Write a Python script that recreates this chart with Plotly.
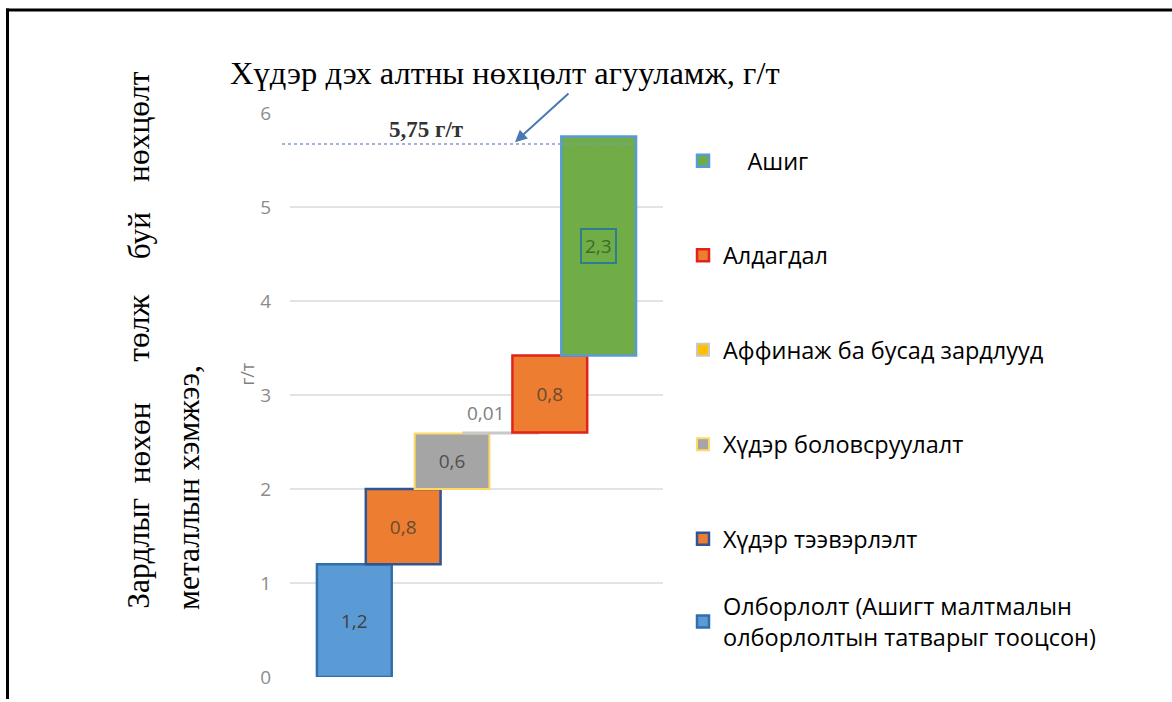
import plotly.graph_objects as go

# ---- data ----
categories = ["Олборлолт (Ашигт малтмалын<br>олборлолтын татварыг тооцсон)",
              "Хүдэр тээвэрлэлт",
              "Хүдэр боловсруулалт",
              "Аффинаж ба бусад зардлууд",
              "Алдагдал",
              "\u00a0\u00a0\u00a0\u00a0Ашиг"]
step_values = [1.2, 0.8, 0.59, 0.01, 0.82, 2.33]
value_labels = ["1,2", "0,8", "0,6", "0,01", "0,8", "2,3"]
cutoff_grade = 5.67
cutoff_label = "5,75 г/т"
y_ticks = [0, 1, 2, 3, 4, 5, 6]

fill_colors = ["#5b9bd5", "#ed7d31", "#a5a5a5", "#ffc000", "#ed7d31", "#70ad47"]
line_colors = ["#2e6fac", "#2f5597", "#ffd966", "#c8c8c8", "#e2231a", "#5b9bd5"]
line_widths = [2.5, 2.5, 2, 2, 2.5, 2.5]
label_colors = ["#404040", "#6b4a33", "#505050", "#7f7f7f", "#6b4a33", "#3d6b2a"]

# ---- geometry helpers (pixel -> paper) ----
W, H = 1172, 702
L, R, T, B = 290, 663, 113, 680
def px(x):
    return (x - L) / (R - L)
def py(y):
    return (B - y) / (B - T)

bases = []
acc = 0.0
for v in step_values:
    bases.append(acc)
    acc += v

LABEL_FONT = "Open Sans"

fig = go.Figure()
n = len(categories)
for i, (name, v, b) in enumerate(zip(categories, step_values, bases)):
    inside = i not in (3, 5)
    fig.add_trace(go.Bar(
        x=[i], y=[v], base=[b], width=1.53, name=name,
        legend="legend2" if i == 0 else "legend",
        legendgroup=f"g{i}", legendrank=100 * (n - i),
        marker=dict(color=fill_colors[i],
                    line=dict(color=line_colors[i], width=line_widths[i])),
        text=[value_labels[i]] if inside else None,
        textposition="inside" if inside else "none",
        insidetextanchor="middle",
        textangle=0,
        textfont=dict(family=LABEL_FONT, size=19, color=label_colors[i]),
        hoverinfo="skip",
    ))

# small value label above the thin bar
fig.add_annotation(x=3, y=bases[3] + step_values[3], xref="x", yref="y",
                   text=value_labels[3], showarrow=False, xshift=-15, yshift=20,
                   font=dict(family=LABEL_FONT, size=19, color="#7f7f7f"))
# boxed label on the last bar
fig.add_annotation(x=5, y=bases[5] + step_values[5] / 2, xref="x", yref="y",
                   text=value_labels[5], showarrow=False,
                   bordercolor="#2e7d8f", borderwidth=2, borderpad=3,
                   font=dict(family=LABEL_FONT, size=19, color="#3d6b2a"))

# dotted cut-off line
fig.add_shape(type="line", xref="paper", yref="y", x0=px(282), x1=px(637),
              y0=cutoff_grade, y1=cutoff_grade,
              line=dict(color="#7f9cc4", width=1.5, dash="dot"), layer="above")
fig.add_annotation(x=px(426), y=cutoff_grade, xref="paper", yref="y",
                   text=f"<b>{cutoff_label}</b>", showarrow=False, yshift=15,
                   font=dict(family="Liberation Serif", size=23, color="#333333"))
# arrow from title to the line
fig.add_annotation(x=px(515), y=cutoff_grade + 0.02, xref="paper", yref="y",
                   ax=55, ay=-50,
                   text="", showarrow=True, arrowhead=2, arrowsize=1.2,
                   arrowwidth=2, arrowcolor="#4a78b5")

# title
fig.add_annotation(x=px(505), y=py(73), xref="paper", yref="paper",
                   text="Хүдэр дэх алтны нөхцөлт агууламж, г/т", showarrow=False,
                   xanchor="center", yanchor="middle",
                   font=dict(family="Liberation Serif", size=32.5, color="#000000"))

# left rotated descriptive text
words = [("Зардлыг", 556), ("нөхөн", 445), ("төлж", 330), ("буй", 236), ("нөхцөлт", 127)]
for w, yc in words:
    fig.add_annotation(x=px(139), y=py(yc), xref="paper", yref="paper", text=w,
                       textangle=-90, showarrow=False, xanchor="center", yanchor="middle",
                       font=dict(family="Liberation Serif", size=31.5, color="#000000"))
fig.add_annotation(x=px(188), y=py(490), xref="paper", yref="paper",
                   text="металлын хэмжээ,", textangle=-90, showarrow=False,
                   xanchor="center", yanchor="middle",
                   font=dict(family="Liberation Serif", size=31.5, color="#000000"))

# y axis title
fig.add_annotation(x=px(247), y=py(376), xref="paper", yref="paper", text="г/т",
                   textangle=-90, showarrow=False, xanchor="center", yanchor="middle",
                   font=dict(family=LABEL_FONT, size=18, color="#7f7f7f"))

# page frame
fig.add_shape(type="line", xref="paper", yref="paper", x0=px(6), x1=px(1172),
              y0=py(9.5), y1=py(9.5), line=dict(color="#000000", width=3))
fig.add_shape(type="line", xref="paper", yref="paper", x0=px(7.5), x1=px(7.5),
              y0=py(8), y1=py(702), line=dict(color="#000000", width=3))

legend_font = dict(family="Open Sans", size=23.5, color="#000000")
fig.update_layout(
    width=W, height=H,
    margin=dict(l=L, r=W - R, t=T, b=H - B, pad=0),
    plot_bgcolor="white", paper_bgcolor="white",
    barmode="overlay",
    showlegend=True,
    legend=dict(x=px(683), y=py(139), xanchor="left", yanchor="top",
                traceorder="grouped", tracegroupgap=61,
                font=legend_font, bgcolor="rgba(0,0,0,0)"),
    legend2=dict(x=px(683), y=py(587), xanchor="left", yanchor="top",
                 font=legend_font, bgcolor="rgba(0,0,0,0)"),
    xaxis=dict(range=[-1.316, 6.316], showticklabels=False, showgrid=False,
               zeroline=False, showline=False, fixedrange=True),
    yaxis=dict(range=[0, 6], tickvals=y_ticks, showgrid=True, gridcolor="#e3e3e3",
               gridwidth=1.5, zeroline=False, showline=False, ticks="",
               ticklabelstandoff=18,
               tickfont=dict(family=LABEL_FONT, size=19, color="#8c8c8c")),
)

fig.write_html("out.html", config={"displayModeBar": False},
               post_script="document.body.style.margin='0';")
